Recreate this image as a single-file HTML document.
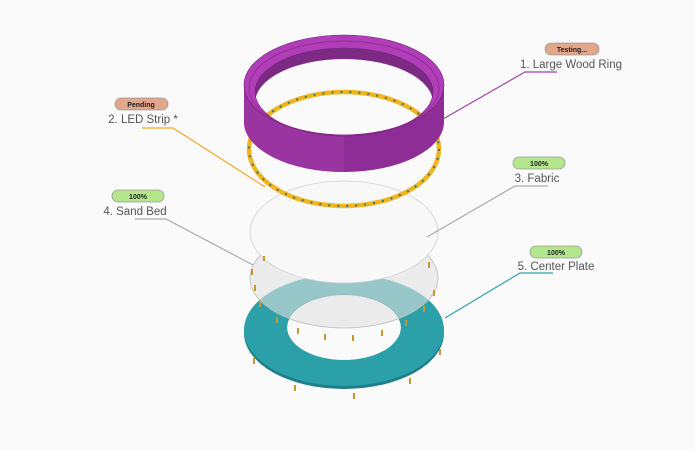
<!DOCTYPE html>
<html><head><meta charset="utf-8"><style>
html,body{margin:0;padding:0;background:#fafafa;}
svg{display:block;font-family:"Liberation Sans",sans-serif;}
.lbl{font-size:11.5px;fill:#555;text-anchor:middle;}
.bt{font-size:7px;font-weight:bold;fill:#222;text-anchor:middle;}
</style></head><body>
<svg width="695" height="449" viewBox="0 0 695 449" xmlns="http://www.w3.org/2000/svg">
<defs>
<clipPath id="inner"><ellipse cx="344" cy="92" rx="89" ry="44"/></clipPath>
</defs>
<rect width="695" height="449" fill="#fafafa"/>

<!-- center plate -->
<path fill-rule="evenodd" fill="#1f7f88" d="M244,333 a100,56 0 1,0 200,0 a100,56 0 1,0 -200,0 Z M287,328 a57,33 0 1,0 114,0 a57,33 0 1,0 -114,0 Z"/>
<path fill-rule="evenodd" fill="#2ca0a9" d="M244,330 a100,56 0 1,0 200,0 a100,56 0 1,0 -200,0 Z M287,327 a57,33 0 1,0 114,0 a57,33 0 1,0 -114,0 Z"/>
<!-- sand bed -->
<ellipse cx="344" cy="278" rx="94" ry="50" fill="rgba(225,225,225,0.6)" stroke="#bbb" stroke-width="0.8"/>
<!-- fabric -->
<ellipse cx="344" cy="232" rx="94" ry="51" fill="#f8f8f8" stroke="#d0d0d0" stroke-width="0.8"/>

<!-- screws -->
<g fill="#c8962a">
<rect x="259" y="301" width="2" height="6"/><rect x="276" y="317" width="2" height="6"/><rect x="297" y="328" width="2" height="6"/>
<rect x="324" y="334" width="2" height="6"/><rect x="352" y="335" width="2" height="6"/><rect x="381" y="330" width="2" height="6"/>
<rect x="405" y="320" width="2" height="6"/><rect x="423" y="306" width="2" height="6"/><rect x="433" y="290" width="2" height="6"/>
<rect x="254" y="285" width="2" height="6"/><rect x="251" y="269" width="2" height="6"/><rect x="428" y="262" width="2" height="6"/>
<rect x="263" y="256" width="2" height="5"/><rect x="439" y="349" width="2" height="6"/><rect x="253" y="358" width="2" height="6"/>
<rect x="294" y="385" width="2" height="6"/><rect x="353" y="393" width="2" height="6"/><rect x="409" y="378" width="2" height="6"/>
</g>

<!-- ring inner wall -->
<ellipse cx="344" cy="92" rx="89" ry="44" fill="#7d2a85"/>
<ellipse cx="344" cy="103" rx="89" ry="44" fill="#fafafa" clip-path="url(#inner)"/>

<!-- LED strip -->
<ellipse cx="344" cy="149" rx="95" ry="57" fill="none" stroke="#f2b51e" stroke-width="4.5"/>
<ellipse cx="344" cy="149" rx="95" ry="57" fill="none" stroke="#2a7a80" stroke-width="2" stroke-dasharray="2 7"/>

<!-- ring band -->
<path d="M244,85 A100,50 0 0,0 444,85 L444,122 A100,50 0 0,1 244,122 Z" fill="#8e2d95"/>
<path d="M244,85 A100,50 0 0,0 344,135 L344,172 A100,50 0 0,1 244,122 Z" fill="#9a34a0"/>
<!-- ring top surface -->
<path fill-rule="evenodd" fill="#b23db8" stroke="#6b2270" stroke-width="0.6" d="M244,85 a100,50 0 1,0 200,0 a100,50 0 1,0 -200,0 Z M255,92 a89,44 0 1,0 178,0 a89,44 0 1,0 -178,0 Z"/>
<ellipse cx="344" cy="88" rx="95" ry="47" fill="none" stroke="#8a2a90" stroke-width="0.8"/>

<!-- connectors -->
<polyline points="557,72 525,72 443,119" fill="none" stroke="#a442a8" stroke-width="1.2"/>
<polyline points="142,128 173,128 265,187" fill="none" stroke="#f5a623" stroke-width="1.2"/>
<polyline points="548,186 515,186 427,237" fill="none" stroke="#aaa" stroke-width="1.2"/>
<polyline points="135,219 166,219 253,265" fill="none" stroke="#aaa" stroke-width="1.2"/>
<polyline points="553,273 520,273 445,318" fill="none" stroke="#2aa3b0" stroke-width="1.2"/>

<!-- badges & labels -->
<g>
<rect x="545" y="43" width="54" height="12" rx="6" fill="#e2a68b" stroke="#999" stroke-width="0.8"/>
<text class="bt" x="572" y="52">Testing...</text>
<text class="lbl" x="571" y="68">1. Large Wood Ring</text>

<rect x="115" y="98" width="53" height="12" rx="6" fill="#e2a68b" stroke="#999" stroke-width="0.8"/>
<text class="bt" x="141" y="107">Pending</text>
<text class="lbl" x="143" y="123">2. LED Strip *</text>

<rect x="513" y="157" width="52" height="12" rx="6" fill="#b4e68c" stroke="#999" stroke-width="0.8"/>
<text class="bt" x="539" y="166">100%</text>
<text class="lbl" x="537" y="182">3. Fabric</text>

<rect x="112" y="190" width="52" height="12" rx="6" fill="#b4e68c" stroke="#999" stroke-width="0.8"/>
<text class="bt" x="138" y="199">100%</text>
<text class="lbl" x="135" y="215">4. Sand Bed</text>

<rect x="530" y="246" width="52" height="12" rx="6" fill="#b4e68c" stroke="#999" stroke-width="0.8"/>
<text class="bt" x="556" y="255">100%</text>
<text class="lbl" x="556" y="270">5. Center Plate</text>
</g>
</svg>
</body></html>
